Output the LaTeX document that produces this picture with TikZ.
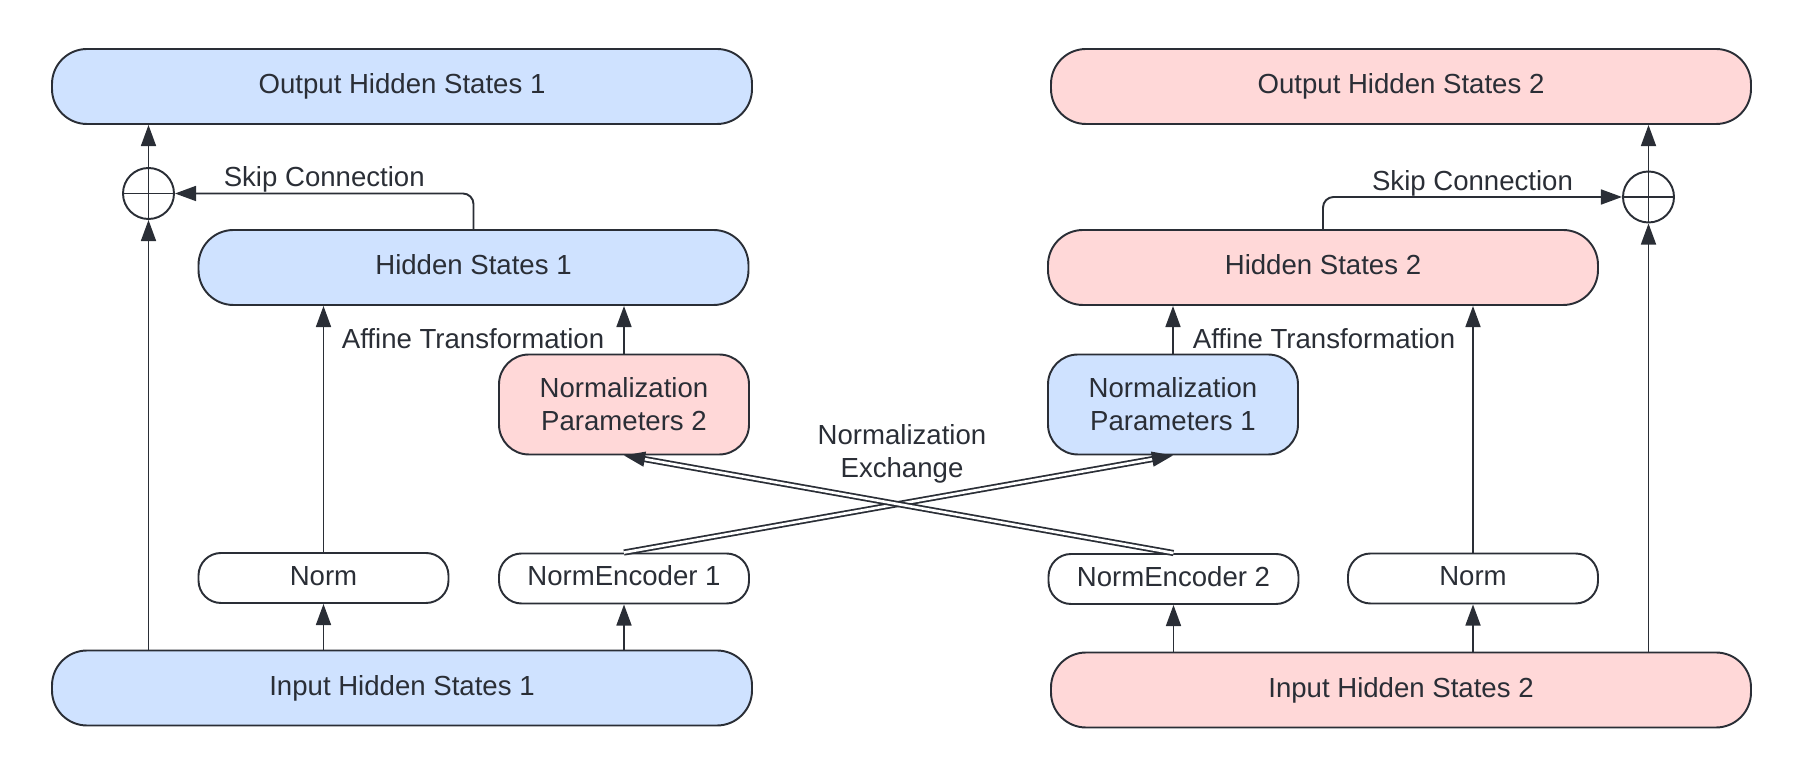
\documentclass[tikz,border=0pt]{standalone}
\usepackage{fontspec}
\setmainfont{Liberation Sans}
\usetikzlibrary{arrows.meta, positioning, calc}
\definecolor{boxblue}{RGB}{207,226,255}
\definecolor{boxred}{RGB}{255,216,216}
\definecolor{linegray}{RGB}{42,46,54}

\begin{document}
\begin{tikzpicture}[font=\fontsize{15.7}{18.7}\selectfont, text=linegray,
        state/.style={draw=linegray, line width=1.1pt, rounded corners=0.7cm, minimum width=14cm,
                      minimum height=1.5cm, align=center},
        oneline/.style={state, text height=11.3pt, text depth=3.3pt},
        hidden/.style={oneline, minimum width=11cm},
        param/.style={state, rounded corners=0.6cm, minimum width=5cm, minimum height=2cm},
        normbox/.style={oneline, rounded corners=0.45cm, minimum width=5cm, minimum height=1cm, fill=white},
        sumnode/.style={draw=linegray, line width=1.1pt, circle, minimum size=1.02cm, inner sep=0pt},
        arr/.style={-{Triangle[length=12pt, width=8.5pt]}, draw=linegray, line width=1.1pt},
        xarr/.style={arr, double, double distance=1.5pt, line width=1pt},
        lbl/.style={inner sep=0pt}
    ]
        \useasboundingbox (0,0) rectangle (36.04,15.56);

        % left branch
        \node[oneline, fill=boxblue] (out1) at (8.04, 13.83) {Output Hidden States 1};
        \node[hidden, fill=boxblue] (hid1) at (9.47, 10.21) {Hidden States 1};
        \node[param, fill=boxred] (par2) at (12.48, 7.47) {Normalization\\Parameters 2};
        \node[normbox] (norm1) at (6.47, 4.00) {Norm};
        \node[normbox] (enc1) at (12.48, 3.99) {NormEncoder 1};
        \node[oneline, fill=boxblue] (in1) at (8.04, 1.80) {Input Hidden States 1};
        \node[sumnode] (sum1) at (2.97, 11.69) {};

        % right branch
        \node[oneline, fill=boxred] (out2) at (28.02, 13.83) {Output Hidden States 2};
        \node[hidden, fill=boxred] (hid2) at (26.46, 10.21) {Hidden States 2};
        \node[param, fill=boxblue] (par1) at (23.46, 7.47) {Normalization\\Parameters 1};
        \node[normbox] (enc2) at (23.47, 3.98) {NormEncoder 2};
        \node[normbox] (norm2) at (29.46, 3.99) {Norm};
        \node[oneline, fill=boxred] (in2) at (28.02, 1.76) {Input Hidden States 2};
        \node[sumnode] (sum2) at (32.97, 11.62) {};

        \draw[draw=linegray, line width=1.1pt] (sum1.north) -- (sum1.south) (sum1.west) -- (sum1.east);
        \draw[draw=linegray, line width=1.1pt] (sum2.north) -- (sum2.south) (sum2.west) -- (sum2.east);

        % vertical arrows
        \draw[arr] (in1.north -| sum1) -- (sum1);
        \draw[arr] (sum1) -- (sum1 |- out1.south);
        \draw[arr] (in1.north -| norm1) -- (norm1);
        \draw[arr] (in1.north -| enc1) -- (enc1);
        \draw[arr] (norm1) -- (norm1 |- hid1.south);
        \draw[arr] (par2) -- (par2 |- hid1.south);

        \draw[arr] (in2.north -| sum2) -- (sum2);
        \draw[arr] (sum2) -- (sum2 |- out2.south);
        \draw[arr] (in2.north -| norm2) -- (norm2);
        \draw[arr] (in2.north -| enc2) -- (enc2);
        \draw[arr] (norm2) -- (norm2 |- hid2.south);
        \draw[arr] (par1) -- (par1 |- hid2.south);

        % skip connections
        \draw[arr, rounded corners=6pt] (hid1.north) |- node[lbl, pos=0.75, above]{Skip Connection} (sum1);
        \draw[arr, rounded corners=6pt] (hid2.north) |- node[lbl, pos=0.75, above]{Skip Connection} (sum2);

        \node (aff1) at (9.46, 8.78) {Affine Transformation};
        \node (aff2) at (26.48, 8.78) {Affine Transformation};

        % exchange
        \draw[xarr] (enc1.north) -- (par1.south);
        \draw[xarr] (enc2.north) -- (par2.south);
        \node[align=center] (swap) at (18.04, 6.48) {Normalization\\Exchange};
    \end{tikzpicture}
\end{document}
